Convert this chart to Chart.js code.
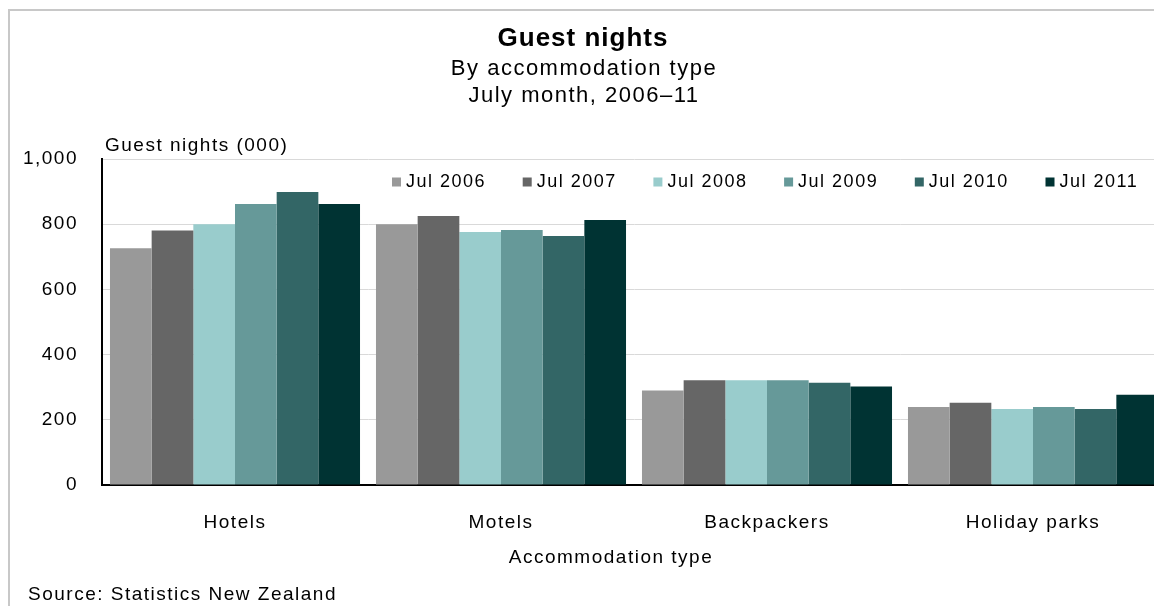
<!DOCTYPE html>
<html>
<head>
<meta charset="utf-8">
<title>Guest nights</title>
<script src="https://cdn.jsdelivr.net/npm/chart.js@4.4.1/dist/chart.umd.min.js"></script>
<style>
  html, body { margin: 0; padding: 0; background: #fff; overflow: hidden; }
  #frame {
    position: absolute; left: 8px; top: 9px; width: 1300px; height: 700px;
    border-left: 2px solid #c8c8c8; border-top: 2px solid #c8c8c8;
  }
  #guestChart { position: absolute; left: 0; top: 0; }
</style>
</head>
<body>
<div id="frame"></div>
<canvas id="guestChart" width="1180" height="606"></canvas>
<script>
// Data (thousands of guest nights)
const categories = ['Hotels', 'Motels', 'Backpackers', 'Holiday parks'];
const seriesLabels = ['Jul 2006', 'Jul 2007', 'Jul 2008', 'Jul 2009', 'Jul 2010', 'Jul 2011'];
const jul2006 = [726, 800, 290, 239];
const jul2007 = [781, 825, 321, 252];
const jul2008 = [800, 776, 321, 233];
const jul2009 = [862, 782, 321, 239];
const jul2010 = [899, 764, 314, 233];
const jul2011 = [862, 813, 302, 277];
const yTickValues = [0, 200, 400, 600, 800, 1000];

const titleText = 'Guest nights';
const subtitleLines = ['By accommodation type', 'July month, 2006\u201311'];
const yAxisTitle = 'Guest nights (000)';
const xAxisTitle = 'Accommodation type';
const sourceText = 'Source: Statistics New Zealand';

// Styling
const seriesColors = ['#999999', '#666666', '#99cccc', '#669999', '#336666', '#003333'];
const FONT = "'Liberation Sans', Arial, sans-serif";

const seriesValues = [jul2006, jul2007, jul2008, jul2009, jul2010, jul2011];

function drawText(ctx, text, x, y, size, align, bold, spacing) {
    ctx.save();
    ctx.font = (bold ? 'bold ' : '') + size + 'px ' + FONT;
    ctx.letterSpacing = spacing + 'px';
    ctx.fillStyle = '#000';
    ctx.textAlign = align;
    ctx.textBaseline = 'alphabetic';
    ctx.fillText(text, x, y);
    ctx.restore();
}

// Titles, axis captions, source note and the in-plot legend
const textPlugin = {
    id: 'textPlugin',
    beforeDraw(chart) {
        chart.ctx.letterSpacing = '1.5px';
    },
    afterDraw(chart) {
        const ctx = chart.ctx;
        drawText(ctx, titleText, 583, 46, 26, 'center', true, 1);
        subtitleLines.forEach(function(line, i) {
            drawText(ctx, line, 584, 75 + i * 26.5, 22, 'center', false, 1.5);
        });
        drawText(ctx, yAxisTitle, 105, 151, 19, 'left', false, 1.5);
        drawText(ctx, xAxisTitle, 611, 563, 19, 'center', false, 1.5);
        drawText(ctx, sourceText, 28, 600, 19, 'left', false, 1.5);

        chart.data.datasets.forEach(function(ds, i) {
            const x = 392 + i * 130.7;
            ctx.save();
            ctx.fillStyle = ds.backgroundColor;
            ctx.fillRect(x, 177.5, 9, 9);
            ctx.restore();
            drawText(ctx, ds.label, x + 14, 187, 18, 'left', false, 1.5);
        });
    }
};

const ctx = document.getElementById('guestChart').getContext('2d');

new Chart(ctx, {
    type: 'bar',
    data: {
        labels: categories,
        datasets: seriesLabels.map(function(label, i) {
            return {
                label: label,
                data: seriesValues[i],
                backgroundColor: seriesColors[i],
                borderWidth: 0,
                barPercentage: 1.0,
                categoryPercentage: 0.94
            };
        })
    },
    options: {
        responsive: false,
        animation: false,
        devicePixelRatio: 1,
        layout: { padding: { top: 159, right: 14, bottom: 0, left: 0 } },
        plugins: {
            legend: { display: false },
            title: { display: false },
            tooltip: { enabled: false }
        },
        scales: {
            x: {
                grid: { display: false },
                border: { display: true, color: '#000', width: 2 },
                ticks: {
                    font: { size: 19, family: FONT },
                    color: '#000',
                    padding: 18,
                    autoSkip: false,
                    maxRotation: 0
                },
                afterFit(scale) { scale.height = 121; }
            },
            y: {
                min: 0,
                max: 1000,
                grid: { color: '#d9d9d9', lineWidth: 1, drawTicks: false },
                border: { display: true, color: '#000', width: 2 },
                ticks: {
                    font: { size: 19, family: FONT },
                    color: '#000',
                    padding: 24,
                    callback: function(v) { return v.toLocaleString('en-US'); }
                },
                afterBuildTicks(scale) {
                    scale.ticks = yTickValues.map(function(v) { return { value: v }; });
                },
                afterFit(scale) { scale.width = 102; }
            }
        }
    },
    plugins: [textPlugin]
});
</script>
</body>
</html>
